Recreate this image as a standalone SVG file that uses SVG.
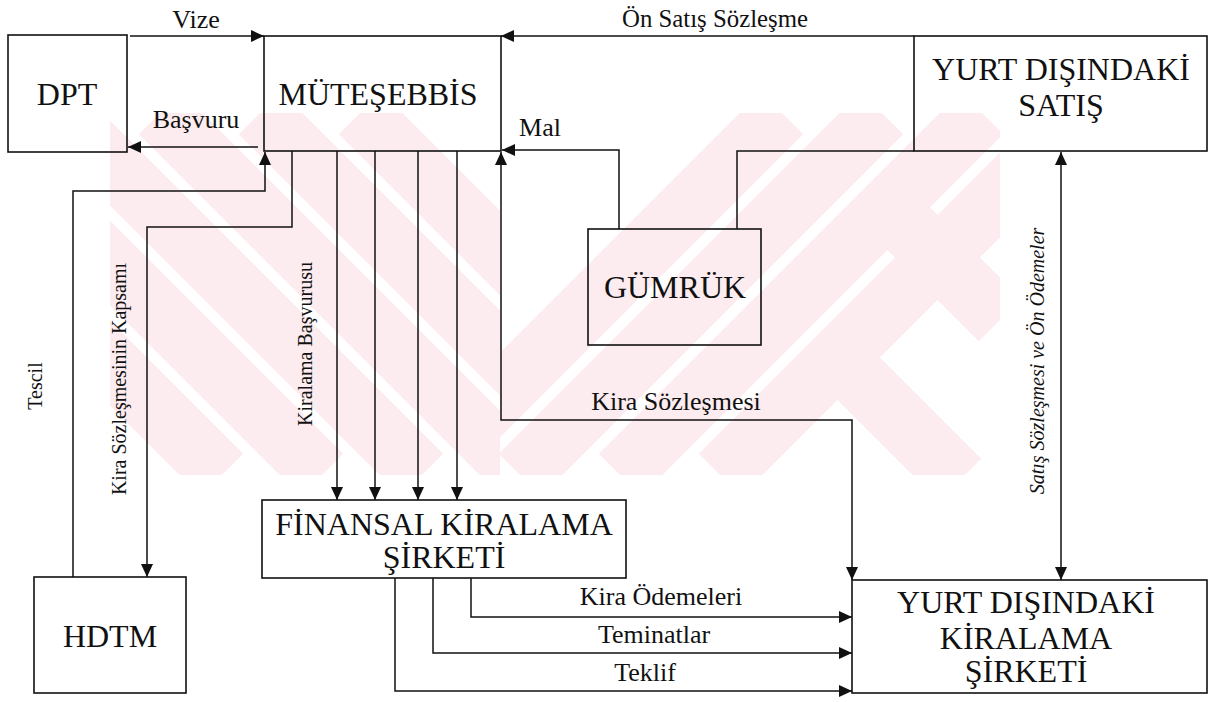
<svg xmlns="http://www.w3.org/2000/svg" width="1213" height="702" viewBox="0 0 1213 702">
<style>
.box{fill:none;stroke:#111;stroke-width:1.6}
.c{fill:none;stroke:#111;stroke-width:1.5}
.t{font-family:"Liberation Serif","Times New Roman",serif;fill:#111}
.n{font-size:32px}
.l{font-size:26px}
.r{font-size:20px}
.wm{stroke:#fdecef;stroke-width:60;fill:none}
</style>
<defs>
<marker id="ah" markerUnits="userSpaceOnUse" markerWidth="14" markerHeight="12" refX="13" refY="6" orient="auto-start-reverse">
<path d="M0,0 L13,6 L0,12 z" fill="#111"/>
</marker>
<clipPath id="wl"><rect x="110" y="113" width="390" height="362"/></clipPath>
<clipPath id="wr"><rect x="500" y="113" width="500" height="362"/></clipPath>
</defs>
<rect width="1213" height="702" fill="#fff"/>
<g id="watermark">
<g clip-path="url(#wl)">
<path class="wm" d="M-140,113 L222,475 M-40,113 L322,475 M60,113 L422,475 M160,113 L522,475 M260,113 L622,475 M360,113 L722,475"/>
</g>
<g clip-path="url(#wr)">
<path class="wm" d="M420,475 L782,113 M520,475 L882,113 M620,475 L982,113 M720,475 L1082,113 M880,200 L1000,320 M840,360 L960,480"/>
</g>
</g>
<g id="connectors">
<path class="c" d="M130,36 H264" marker-end="url(#ah)"/>
<path class="c" d="M258,147 H128" marker-end="url(#ah)"/>
<path class="c" d="M73,577 V191 H265 V152" marker-end="url(#ah)"/>
<path class="c" d="M292,151 V227 H147 V577" marker-end="url(#ah)"/>
<path class="c" d="M337,151 V500" marker-end="url(#ah)"/>
<path class="c" d="M375,151 V500" marker-end="url(#ah)"/>
<path class="c" d="M418,151 V500" marker-end="url(#ah)"/>
<path class="c" d="M457,151 V500" marker-end="url(#ah)"/>
<path class="c" d="M914,36 H501" marker-end="url(#ah)"/>
<path class="c" d="M619,229 V150 H502" marker-end="url(#ah)"/>
<path class="c" d="M737,229 V151 H914"/>
<path class="c" d="M501,152 V420 H852 V580" marker-start="url(#ah)" marker-end="url(#ah)"/>
<path class="c" d="M1061,152 V580" marker-start="url(#ah)" marker-end="url(#ah)"/>
<path class="c" d="M471,578 V617 H852" marker-end="url(#ah)"/>
<path class="c" d="M433,578 V653 H852" marker-end="url(#ah)"/>
<path class="c" d="M395,578 V691 H852" marker-end="url(#ah)"/>
<text class="t l" x="196" y="28" text-anchor="middle">Vize</text>
<text class="t l" x="196" y="128" text-anchor="middle">Başvuru</text>
<text class="t l" x="715" y="27" text-anchor="middle" textLength="186" lengthAdjust="spacingAndGlyphs">Ön Satış Sözleşme</text>
<text class="t l" x="540" y="136" text-anchor="middle">Mal</text>
<text class="t l" x="676" y="410" text-anchor="middle">Kira Sözleşmesi</text>
<text class="t l" x="661" y="605" text-anchor="middle" font-size="25">Kira Ödemeleri</text>
<text class="t l" x="654" y="643" text-anchor="middle">Teminatlar</text>
<text class="t l" x="645" y="681" text-anchor="middle">Teklif</text>
<text class="t r" transform="translate(42,386) rotate(-90)" text-anchor="middle">Tescil</text>
<text class="t r" transform="translate(126,379) rotate(-90)" text-anchor="middle">Kira Sözleşmesinin Kapsamı</text>
<text class="t r" transform="translate(312,344) rotate(-90)" text-anchor="middle">Kiralama  Başvurusu</text>
<text class="t r" transform="translate(1044,361) rotate(-90)" text-anchor="middle" font-style="italic">Satış Sözleşmesi ve Ön Ödemeler</text>
</g>
<g id="dpt">
<rect class="box" x="8" y="35" width="119" height="117"/>
<text class="t n" x="67" y="105" text-anchor="middle">DPT</text>
</g>
<g id="mutesebbis">
<rect class="box" x="264" y="36" width="237" height="115"/>
<text class="t n" x="378" y="105" text-anchor="middle">MÜTEŞEBBİS</text>
</g>
<g id="yurt-disi-satis">
<rect class="box" x="914" y="36" width="293" height="115"/>
<text class="t n" x="1061" y="80" text-anchor="middle" font-size="30">YURT DIŞINDAKİ</text>
<text class="t n" x="1061" y="116" text-anchor="middle" font-size="30">SATIŞ</text>
</g>
<g id="gumruk">
<rect class="box" x="588" y="229" width="173" height="116"/>
<text class="t n" x="675" y="298" text-anchor="middle" font-size="31">GÜMRÜK</text>
</g>
<g id="hdtm">
<rect class="box" x="34" y="577" width="152" height="116"/>
<text class="t n" x="110" y="647" text-anchor="middle" font-size="31">HDTM</text>
</g>
<g id="finansal">
<rect class="box" x="262" y="500" width="364" height="78"/>
<text class="t n" x="444" y="535" text-anchor="middle" font-size="31">FİNANSAL KİRALAMA</text>
<text class="t n" x="444" y="568" text-anchor="middle" font-size="31">ŞİRKETİ</text>
</g>
<g id="yurt-disi-kiralama">
<rect class="box" x="852" y="580" width="355" height="113"/>
<text class="t n" x="1026" y="613" text-anchor="middle">YURT DIŞINDAKİ</text>
<text class="t n" x="1026" y="649" text-anchor="middle">KİRALAMA</text>
<text class="t n" x="1026" y="682" text-anchor="middle">ŞİRKETİ</text>
</g>
</svg>
